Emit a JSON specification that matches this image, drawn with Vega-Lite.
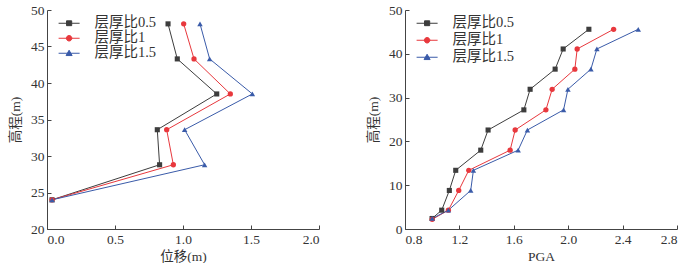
{
  "$schema": "https://vega.github.io/schema/vega-lite/v6.json",
  "padding": {"left": 8, "top": 3, "right": 0, "bottom": 0},
  "config": {
    "font": "Liberation Serif, Noto Sans CJK SC",
    "view": {"stroke": null},
    "axis": {"grid": false, "domainColor": "#444", "tickColor": "#444", "labelColor": "#333", "titleColor": "#333", "labelFontSize": 13.5, "titleFontSize": 13.5, "titleFontWeight": "normal", "tickSize": -4, "labelPadding": 7, "labelFont": "Liberation Serif", "titleFont": "Liberation Serif, Noto Sans CJK SC"},
    "legend": {"labelFont": "Liberation Serif, Noto Sans CJK SC", "labelColor": "#333"},
    "concat": {"spacing": 46}
  },
  "datasets": {
    "disp": [
      {"series": "层厚比0.5", "d": 0.89, "h": 48.1},
      {"series": "层厚比0.5", "d": 0.958, "h": 43.3},
      {"series": "层厚比0.5", "d": 1.248, "h": 38.5},
      {"series": "层厚比0.5", "d": 0.811, "h": 33.6},
      {"series": "层厚比0.5", "d": 0.828, "h": 28.8},
      {"series": "层厚比0.5", "d": 0.037, "h": 24.0},
      {"series": "层厚比1", "d": 1.005, "h": 48.1},
      {"series": "层厚比1", "d": 1.081, "h": 43.3},
      {"series": "层厚比1", "d": 1.348, "h": 38.5},
      {"series": "层厚比1", "d": 0.88, "h": 33.6},
      {"series": "层厚比1", "d": 0.929, "h": 28.8},
      {"series": "层厚比1", "d": 0.037, "h": 24.0},
      {"series": "层厚比1.5", "d": 1.125, "h": 48.1},
      {"series": "层厚比1.5", "d": 1.196, "h": 43.3},
      {"series": "层厚比1.5", "d": 1.51, "h": 38.5},
      {"series": "层厚比1.5", "d": 1.012, "h": 33.6},
      {"series": "层厚比1.5", "d": 1.159, "h": 28.8},
      {"series": "层厚比1.5", "d": 0.037, "h": 24.0}
    ],
    "pga": [
      {"series": "层厚比0.5", "p": 0.999, "h": 2.4},
      {"series": "层厚比0.5", "p": 1.07, "h": 4.3},
      {"series": "层厚比0.5", "p": 1.126, "h": 8.8},
      {"series": "层厚比0.5", "p": 1.173, "h": 13.4},
      {"series": "层厚比0.5", "p": 1.357, "h": 18.0},
      {"series": "层厚比0.5", "p": 1.411, "h": 22.6},
      {"series": "层厚比0.5", "p": 1.674, "h": 27.2},
      {"series": "层厚比0.5", "p": 1.72, "h": 31.9},
      {"series": "层厚比0.5", "p": 1.904, "h": 36.5},
      {"series": "层厚比0.5", "p": 1.963, "h": 41.1},
      {"series": "层厚比0.5", "p": 2.152, "h": 45.6},
      {"series": "层厚比1", "p": 1.0, "h": 2.2},
      {"series": "层厚比1", "p": 1.119, "h": 4.3},
      {"series": "层厚比1", "p": 1.195, "h": 8.8},
      {"series": "层厚比1", "p": 1.269, "h": 13.4},
      {"series": "层厚比1", "p": 1.573, "h": 18.0},
      {"series": "层厚比1", "p": 1.61, "h": 22.6},
      {"series": "层厚比1", "p": 1.836, "h": 27.2},
      {"series": "层厚比1", "p": 1.882, "h": 31.9},
      {"series": "层厚比1", "p": 2.049, "h": 36.5},
      {"series": "层厚比1", "p": 2.066, "h": 41.1},
      {"series": "层厚比1", "p": 2.334, "h": 45.6},
      {"series": "层厚比1.5", "p": 1.0, "h": 2.4},
      {"series": "层厚比1.5", "p": 1.119, "h": 4.3},
      {"series": "层厚比1.5", "p": 1.283, "h": 8.8},
      {"series": "层厚比1.5", "p": 1.303, "h": 13.4},
      {"series": "层厚比1.5", "p": 1.632, "h": 18.0},
      {"series": "层厚比1.5", "p": 1.7, "h": 22.6},
      {"series": "层厚比1.5", "p": 1.966, "h": 27.2},
      {"series": "层厚比1.5", "p": 1.998, "h": 31.9},
      {"series": "层厚比1.5", "p": 2.167, "h": 36.5},
      {"series": "层厚比1.5", "p": 2.211, "h": 41.1},
      {"series": "层厚比1.5", "p": 2.515, "h": 45.6}
    ]
  },
  "hconcat": [
    {
      "width": 272,
      "height": 219,
      "data": {"name": "disp"},
      "encoding": {
        "x": {"field": "d", "type": "quantitative", "scale": {"domain": [0, 2]}, "axis": {"values": [0, 0.5, 1, 1.5, 2], "format": ".1f", "title": "位移(m)", "titlePadding": 4}},
        "y": {"field": "h", "type": "quantitative", "scale": {"domain": [20, 50]}, "axis": {"values": [20, 25, 30, 35, 40, 45, 50], "title": "高程(m)", "titlePadding": 8}},
        "color": {"field": "series", "type": "nominal", "scale": {"domain": ["层厚比0.5", "层厚比1", "层厚比1.5"], "range": ["#3d3d3d", "#e8383d", "#3a5ba9"]},
          "legend": {"orient": "top-left", "offset": 6, "padding": 0, "title": null, "labelFontSize": 14.5, "symbolSize": 121, "symbolStrokeWidth": 1, "labelOffset": 27, "rowPadding": 0,
            "encode": {"symbols": {"update": {
              "shape": {"signal": "datum.value === '层厚比0.5' ? 'M-0.3,0H3.52M1.14,-0.44H2.08V0.44H1.14Z' : datum.value === '层厚比1' ? 'M-0.3,0H3.52M2.11,0A0.5,0.5,0,1,1,1.11,0A0.5,0.5,0,1,1,2.11,0Z' : 'M-0.3,0H3.52M1.61,-0.55L2.16,0.42L1.06,0.42Z'"},
              "fill": {"signal": "datum.value === '层厚比0.5' ? '#3d3d3d' : datum.value === '层厚比1' ? '#e8383d' : '#3a5ba9'"},
              "stroke": {"signal": "datum.value === '层厚比0.5' ? '#3d3d3d' : datum.value === '层厚比1' ? '#e8383d' : '#3a5ba9'"},
              "opacity": {"value": 1}
            }}}}}
      },
      "layer": [
        {"mark": {"type": "line", "strokeWidth": 1}, "encoding": {"order": {"field": "h", "type": "quantitative"}}},
        {"transform": [{"filter": "datum.series === '层厚比0.5'"}], "mark": {"type": "point", "shape": "square", "filled": true, "opacity": 1, "size": 26}},
        {"transform": [{"filter": "datum.series === '层厚比1'"}], "mark": {"type": "point", "shape": "circle", "filled": true, "opacity": 1, "size": 28}},
        {"transform": [{"filter": "datum.series === '层厚比1.5'"}], "mark": {"type": "point", "shape": "triangle-up", "filled": true, "opacity": 1, "size": 30}},
        {
          "data": {"values": [{"label": "(a)"}]},
          "mark": {"type": "text", "fontSize": 14.5, "font": "Liberation Serif", "color": "#222"},
          "encoding": {
            "x": {"datum": 1.7, "type": "quantitative"},
            "y": {"datum": 23.7, "type": "quantitative"},
            "text": {"field": "label"},
            "color": {"value": "#222"}
          }
        }
      ]
    },
    {
      "width": 272,
      "height": 219,
      "data": {"name": "pga"},
      "encoding": {
        "x": {"field": "p", "type": "quantitative", "scale": {"domain": [0.8, 2.8]}, "axis": {"values": [0.8, 1.2, 1.6, 2.0, 2.4, 2.8], "format": ".1f", "title": "PGA", "titlePadding": 4}},
        "y": {"field": "h", "type": "quantitative", "scale": {"domain": [0, 50]}, "axis": {"values": [0, 10, 20, 30, 40, 50], "title": "高程(m)", "titlePadding": 8}},
        "color": {"field": "series", "type": "nominal", "scale": {"domain": ["层厚比0.5", "层厚比1", "层厚比1.5"], "range": ["#3d3d3d", "#e8383d", "#3a5ba9"]},
          "legend": {"orient": "top-left", "offset": 6, "padding": 0, "title": null, "labelFontSize": 14.5, "symbolSize": 121, "symbolStrokeWidth": 1, "labelOffset": 27, "rowPadding": 2,
            "encode": {"symbols": {"update": {
              "shape": {"signal": "datum.value === '层厚比0.5' ? 'M-0.3,0H3.52M1.14,-0.44H2.08V0.44H1.14Z' : datum.value === '层厚比1' ? 'M-0.3,0H3.52M2.11,0A0.5,0.5,0,1,1,1.11,0A0.5,0.5,0,1,1,2.11,0Z' : 'M-0.3,0H3.52M1.61,-0.55L2.16,0.42L1.06,0.42Z'"},
              "fill": {"signal": "datum.value === '层厚比0.5' ? '#3d3d3d' : datum.value === '层厚比1' ? '#e8383d' : '#3a5ba9'"},
              "stroke": {"signal": "datum.value === '层厚比0.5' ? '#3d3d3d' : datum.value === '层厚比1' ? '#e8383d' : '#3a5ba9'"},
              "opacity": {"value": 1}
            }}}}}
      },
      "layer": [
        {"mark": {"type": "line", "strokeWidth": 1}, "encoding": {"order": {"field": "h", "type": "quantitative"}}},
        {"transform": [{"filter": "datum.series === '层厚比0.5'"}], "mark": {"type": "point", "shape": "square", "filled": true, "opacity": 1, "size": 26}},
        {"transform": [{"filter": "datum.series === '层厚比1'"}], "mark": {"type": "point", "shape": "circle", "filled": true, "opacity": 1, "size": 28}},
        {"transform": [{"filter": "datum.series === '层厚比1.5'"}], "mark": {"type": "point", "shape": "triangle-up", "filled": true, "opacity": 1, "size": 30}},
        {
          "data": {"values": [{"label": "(b)"}]},
          "mark": {"type": "text", "fontSize": 14.5, "font": "Liberation Serif", "color": "#222"},
          "encoding": {
            "x": {"datum": 2.505, "type": "quantitative"},
            "y": {"datum": 6.3, "type": "quantitative"},
            "text": {"field": "label"},
            "color": {"value": "#222"}
          }
        }
      ]
    }
  ],
  "resolve": {"scale": {"color": "independent", "x": "independent", "y": "independent"}, "legend": {"color": "independent"}}
}
